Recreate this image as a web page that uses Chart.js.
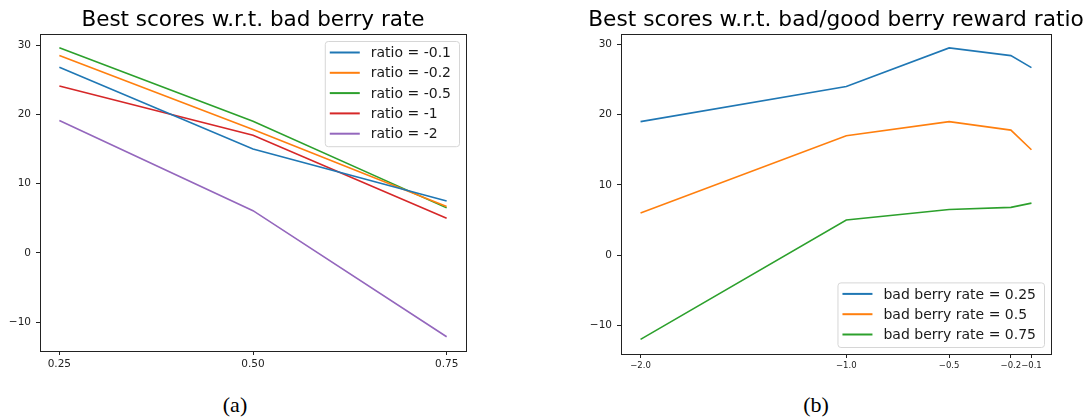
<!DOCTYPE html>
<html>
<head>
<meta charset="utf-8">
<script src="https://cdn.jsdelivr.net/npm/chart.js@4.4.1/dist/chart.umd.min.js"></script>
<style>
  html, body { margin: 0; padding: 0; background: #fff; overflow: hidden; }
  body { width: 1086px; height: 418px; position: relative; }
  .panel { position: absolute; top: 0; }
  .caption { position: absolute; top: 392px; font-family: "Liberation Serif", serif; font-size: 22px; color: #000; transform: translateX(-50%); }
</style>
</head>
<body>
<div class="panel" style="left:0;width:506px;height:380px"><canvas id="chartA"></canvas></div>
<div class="panel" style="left:580px;width:512px;height:380px"><canvas id="chartB"></canvas></div>
<div class="caption" style="left:235px">(a)</div>
<div class="caption" style="left:816px">(b)</div>
<script>
// Panel (a): x = bad berry rate, one line per ratio
const rates = [0.25, 0.5, 0.75];
const rateLabels = ['0.25', '0.50', '0.75'];
const ratioNames = ['ratio = -0.1', 'ratio = -0.2', 'ratio = -0.5', 'ratio = -1', 'ratio = -2'];
const ratioM01 = [26.8, 15.0, 7.5];
const ratioM02 = [28.5, 17.8, 6.7];
const ratioM05 = [29.6, 19.0, 6.5];
const ratioM1 = [24.1, 17.0, 5.0];
const ratioM2 = [19.1, 6.1, -12.1];

// Panel (b): x = bad/good berry reward ratio, one line per rate
const ratios = [-2.0, -1.0, -0.5, -0.2, -0.1];
const ratioLabels = ['\u22122.0', '\u22121.0', '\u22120.5', '\u22120.2', '\u22120.1'];
const rateNames = ['bad berry rate = 0.25', 'bad berry rate = 0.5', 'bad berry rate = 0.75'];
const rate025 = [19.0, 24.0, 29.5, 28.4, 26.7];
const rate05 = [6.0, 17.0, 19.0, 17.8, 15.0];
const rate075 = [-12.0, 5.0, 6.5, 6.8, 7.4];

const yTicks = [-10, 0, 10, 20, 30];

const colors = ['#1f77b4', '#ff7f0e', '#2ca02c', '#d62728', '#9467bd'];
const FONT = '"DejaVu Sans", sans-serif';

function makeSeries(xs, ys, label, color) {
    return {
        label: label,
        data: xs.map((x, i) => ({ x: x, y: ys[i] })),
        borderColor: color,
        backgroundColor: color,
        borderWidth: 1.6,
        pointRadius: 0,
        tension: 0,
        fill: false
    };
}

// draws the full axes box like matplotlib
const frame = {
    id: 'frame',
    afterDraw(chart) {
        const { ctx, chartArea: a } = chart;
        ctx.save();
        ctx.strokeStyle = '#222';
        ctx.lineWidth = 1;
        ctx.strokeRect(Math.round(a.left) + 0.5, Math.round(a.top) + 0.5,
            Math.round(a.right - a.left), Math.round(a.bottom - a.top));
        ctx.restore();
    }
};

// legend box drawn inside the plot area
const boxLegend = {
    id: 'boxLegend',
    afterDraw(chart, args, opts) {
        const { ctx, chartArea: a } = chart;
        const sets = chart.data.datasets;
        ctx.save();
        ctx.font = '14px ' + FONT;
        let textW = 0;
        sets.forEach(ds => { textW = Math.max(textW, ctx.measureText(ds.label).width); });
        const padL = 5, handle = 30, gap = 11, padR = 8, padT = 11.5, rowH = 20.3, padB = 12.5;
        const w = padL + handle + gap + textW + padR;
        const h = padT + rowH * (sets.length - 1) + padB;
        const x = a.right - 7 - w;
        const y = opts.where === 'lower' ? a.bottom - 7 - h : a.top + 7;
        ctx.beginPath();
        ctx.roundRect(x + 0.5, y + 0.5, w, h, 3);
        ctx.fillStyle = 'rgba(255,255,255,0.85)';
        ctx.fill();
        ctx.strokeStyle = '#d6d6d6';
        ctx.lineWidth = 1;
        ctx.stroke();
        ctx.textBaseline = 'middle';
        ctx.textAlign = 'left';
        sets.forEach((ds, i) => {
            const cy = y + padT + i * rowH;
            ctx.beginPath();
            ctx.moveTo(x + padL, cy);
            ctx.lineTo(x + padL + handle, cy);
            ctx.strokeStyle = ds.borderColor;
            ctx.lineWidth = 2;
            ctx.stroke();
            ctx.fillStyle = '#1a1a1a';
            ctx.fillText(ds.label, x + padL + handle + gap, cy + 1);
        });
        ctx.restore();
    }
};

function makeChart(id, opts) {
    return new Chart(document.getElementById(id), {
        type: 'line',
        data: { datasets: opts.datasets },
        options: {
            responsive: true,
            maintainAspectRatio: false,
            animation: false,
            layout: { padding: 0 },
            plugins: {
                legend: { display: false },
                tooltip: { enabled: false },
                title: {
                    display: true,
                    text: opts.title,
                    color: '#000',
                    font: { family: FONT, size: opts.titleSize, weight: 'normal', lineHeight: 1.2 },
                    padding: { top: 34 - opts.titleSize * 1.2 - 0.3, bottom: 0.3 }
                },
                boxLegend: { where: opts.legendWhere }
            },
            scales: {
                x: {
                    type: 'linear',
                    min: opts.xMin,
                    max: opts.xMax,
                    afterBuildTicks: s => { s.ticks = opts.xTicks.map(v => ({ value: v })); },
                    afterFit: s => { s.height = opts.xAxisH; },
                    grid: { display: true, drawOnChartArea: false, drawTicks: true, tickLength: 4, color: '#222' },
                    border: { display: true, color: '#222' },
                    ticks: {
                        autoSkip: false,
                        maxRotation: 0,
                        padding: 3,
                        color: '#222',
                        font: { family: FONT, size: opts.xFont },
                        callback: (v) => opts.xLabels[opts.xTicks.indexOf(v)]
                    }
                },
                y: {
                    min: opts.yMin,
                    max: opts.yMax,
                    afterBuildTicks: s => { s.ticks = yTicks.map(v => ({ value: v })); },
                    afterFit: s => { s.width = opts.yAxisW; },
                    grid: { display: true, drawOnChartArea: false, drawTicks: true, tickLength: 4, color: '#222' },
                    border: { display: true, color: '#222' },
                    ticks: {
                        padding: 5,
                        color: '#222',
                        font: { family: FONT, size: 10.5 },
                        callback: v => (v < 0 ? '\u2212' + Math.abs(v) : String(v))
                    }
                },
                // empty right-hand spacer so the title centres over the plot
                spacer: {
                    position: 'right',
                    display: true,
                    afterFit: s => { s.width = opts.yAxisW; },
                    grid: { display: false },
                    border: { display: false },
                    ticks: { callback: () => '' }
                }
            }
        },
        plugins: [frame, boxLegend]
    });
}

const seriesA = [ratioM01, ratioM02, ratioM05, ratioM1, ratioM2];
makeChart('chartA', {
    title: 'Best scores w.r.t. bad berry rate',
    titleSize: 21.5,
    datasets: seriesA.map((ys, i) => makeSeries(rates, ys, ratioNames[i], colors[i])),
    xMin: 0.225, xMax: 0.775, xTicks: rates, xLabels: rateLabels, xFont: 10.5,
    yMin: -14.16, yMax: 31.6,
    yAxisW: 40, xAxisH: 29,
    legendWhere: 'upper'
});

const seriesB = [rate025, rate05, rate075];
makeChart('chartB', {
    title: 'Best scores w.r.t. bad/good berry reward ratio',
    titleSize: 21.7,
    datasets: seriesB.map((ys, i) => makeSeries(ratios, ys, rateNames[i], colors[i])),
    xMin: -2.095, xMax: -0.005, xTicks: ratios, xLabels: ratioLabels, xFont: 8.5,
    yMin: -14.08, yMax: 31.48,
    yAxisW: 41, xAxisH: 26,
    legendWhere: 'lower'
});
</script>
</body>
</html>
